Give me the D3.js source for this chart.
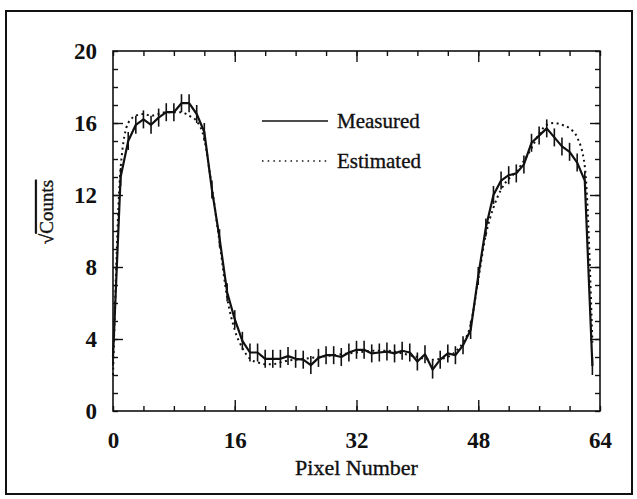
<!DOCTYPE html>
<html>
<head>
<meta charset="utf-8">
<script src="https://cdnjs.cloudflare.com/ajax/libs/d3/7.8.5/d3.min.js"></script>
<style>
	body { margin: 0; background: #fff; }
	svg text { font-family: "Liberation Serif", "Times New Roman", serif; fill: #111; }
	.heavy { stroke: #111; stroke-width: 0.35; }
	.axis line { stroke: #111; stroke-width: 1.4; }
	.axis .domain { display: none; }
</style>
</head>
<body>
<svg id="chart" width="637" height="499"></svg>
<script>
// pixel index 0..63
var pixels = d3.range(0, 64);

var measured = [3.0, 13.0, 15.0, 15.9, 16.2, 15.9, 16.3, 16.6, 16.6, 17.1,
	17.1, 16.5, 15.5, 12.3, 9.6, 6.6, 5.1, 3.9, 3.25, 3.25,
	2.9, 2.9, 2.9, 3.05, 2.9, 2.85, 2.55, 2.95, 3.1, 3.1,
	3.0, 3.25, 3.4, 3.4, 3.2, 3.25, 3.3, 3.2, 3.35, 3.25,
	2.75, 3.15, 2.3, 2.85, 3.2, 3.1, 3.65, 4.5, 7.5, 10.2,
	12.0, 12.8, 13.1, 13.2, 13.7, 14.9, 15.3, 15.7, 15.2, 14.7,
	14.4, 13.8, 12.8, 2.5];

var estimated = [2.0, 13.5, 16.0, 16.4, 16.5, 16.4, 16.5, 16.6, 16.6, 16.6,
	16.4, 16.1, 15.1, 12.4, 9.4, 6.3, 4.5, 3.5, 2.9, 2.7,
	2.6, 2.6, 2.7, 2.8, 2.85, 2.9, 2.95, 3.0, 3.05, 3.1,
	3.15, 3.2, 3.25, 3.3, 3.35, 3.35, 3.35, 3.3, 3.2, 3.1,
	3.0, 2.9, 2.85, 2.9, 3.0, 3.3, 3.8, 4.8, 7.3, 9.8,
	11.3, 12.3, 12.9, 13.3, 13.9, 14.6, 15.4, 15.9, 16.0, 15.9,
	15.7, 15.2, 13.6, 3.8];

// sqrt(N) has a constant error of 0.5
var errHalf = 0.5;

var xLabels = [0, 16, 32, 48, 64],
	xMinor = d3.range(0, 65, 4),
	xMajor = [16, 32, 48];
var yLabels = [0, 4, 8, 12, 16, 20],
	yMinor = d3.range(0, 21, 1),
	yMajor = [4, 8, 12, 16];

var seriesNames = ["Measured", "Estimated"];

var svg = d3.select("#chart"),
	plot = {left: 113, right: 600, top: 51, bottom: 411};

var x = d3.scaleLinear().domain([0, 64]).range([plot.left, plot.right]);
var y = d3.scaleLinear().domain([0, 20]).range([plot.bottom, plot.top]);

// outer border
svg.append("rect")
	.attr("x", 6).attr("y", 11)
	.attr("width", 626).attr("height", 483)
	.attr("fill", "none")
	.attr("stroke", "#111")
	.attr("stroke-width", 2);

// ticks on all four sides
function ticks(axis, pos, values, size) {
	svg.append("g")
		.attr("class", "axis")
		.attr("transform", pos)
		.call(axis.tickValues(values).tickSize(size).tickFormat(""));
}
ticks(d3.axisBottom(x), "translate(0," + plot.bottom + ")", xMinor, -5);
ticks(d3.axisBottom(x), "translate(0," + plot.bottom + ")", xMajor, -11);
ticks(d3.axisTop(x), "translate(0," + plot.top + ")", xMinor, -5);
ticks(d3.axisTop(x), "translate(0," + plot.top + ")", xMajor, -11);
ticks(d3.axisLeft(y), "translate(" + plot.left + ",0)", yMinor, -5);
ticks(d3.axisLeft(y), "translate(" + plot.left + ",0)", yMajor, -10);
ticks(d3.axisRight(y), "translate(" + plot.right + ",0)", yMinor, -5);
ticks(d3.axisRight(y), "translate(" + plot.right + ",0)", yMajor, -10);

// tick labels
var xl = svg.append("g")
	.attr("transform", "translate(0," + plot.bottom + ")")
	.call(d3.axisBottom(x).tickValues(xLabels).tickSize(0).tickPadding(0));
xl.select(".domain").remove();
xl.selectAll("text")
	.attr("y", 37)
	.attr("dy", 0)
	.style("font-size", "23px")
	.style("font-weight", "bold");

var yl = svg.append("g")
	.attr("transform", "translate(" + plot.left + ",0)")
	.call(d3.axisLeft(y).tickValues(yLabels).tickSize(0).tickPadding(0));
yl.select(".domain").remove();
yl.selectAll("text")
	.attr("x", -16)
	.attr("dy", "0.34em")
	.style("font-size", "23px")
	.style("font-weight", "bold");

// frame
svg.append("rect")
	.attr("x", plot.left).attr("y", plot.top)
	.attr("width", plot.right - plot.left).attr("height", plot.bottom - plot.top)
	.attr("fill", "none")
	.attr("stroke", "#111")
	.attr("stroke-width", 1.6);

// axis titles
svg.append("text")
	.attr("class", "heavy")
	.attr("x", (plot.left + plot.right) / 2)
	.attr("y", 475)
	.attr("text-anchor", "middle")
	.style("font-size", "22px")
	.text("Pixel Number");

var yt = svg.append("text")
	.attr("class", "heavy")
	.attr("transform", "translate(53,212) rotate(-90)")
	.attr("text-anchor", "middle")
	.style("font-size", "19px");
yt.append("tspan").text("\u221A");
yt.append("tspan").style("text-decoration", "overline").text("Counts");

// estimated curve (dotted)
var estLine = d3.line()
	.x(function(d, i) { return x(pixels[i]); })
	.y(function(d) { return y(d); })
	.curve(d3.curveMonotoneX);

svg.append("path")
	.datum(estimated)
	.attr("d", estLine)
	.attr("fill", "none")
	.attr("stroke", "#111")
	.attr("stroke-width", 2)
	.attr("stroke-dasharray", "2,3.5");

// measured line with error bars
var measLine = d3.line()
	.x(function(d, i) { return x(pixels[i]); })
	.y(function(d) { return y(d); });

svg.append("path")
	.datum(measured)
	.attr("d", measLine)
	.attr("fill", "none")
	.attr("stroke", "#111")
	.attr("stroke-width", 2.2)
	.attr("stroke-linejoin", "round");

svg.append("g")
	.selectAll("line")
	.data(measured)
	.enter()
	.append("line")
	.attr("x1", function(d, i) { return x(pixels[i]); })
	.attr("x2", function(d, i) { return x(pixels[i]); })
	.attr("y1", function(d) { return y(d - errHalf); })
	.attr("y2", function(d) { return y(d + errHalf); })
	.attr("stroke", "#111")
	.attr("stroke-width", 1.6);

// legend
var legend = svg.append("g");
seriesNames.forEach(function(name, i) {
	var ly = 121 + i * 40;
	legend.append("line")
		.attr("x1", 262).attr("x2", 328)
		.attr("y1", ly).attr("y2", ly)
		.attr("stroke", "#111")
		.attr("stroke-width", i === 0 ? 1.6 : 1.4)
		.attr("stroke-dasharray", i === 0 ? null : "1.5,4.2");
	legend.append("text")
		.attr("class", "heavy")
		.attr("x", 337)
		.attr("y", ly + 6.5)
		.style("font-size", "21px")
		.text(name);
});
</script>
</body>
</html>
